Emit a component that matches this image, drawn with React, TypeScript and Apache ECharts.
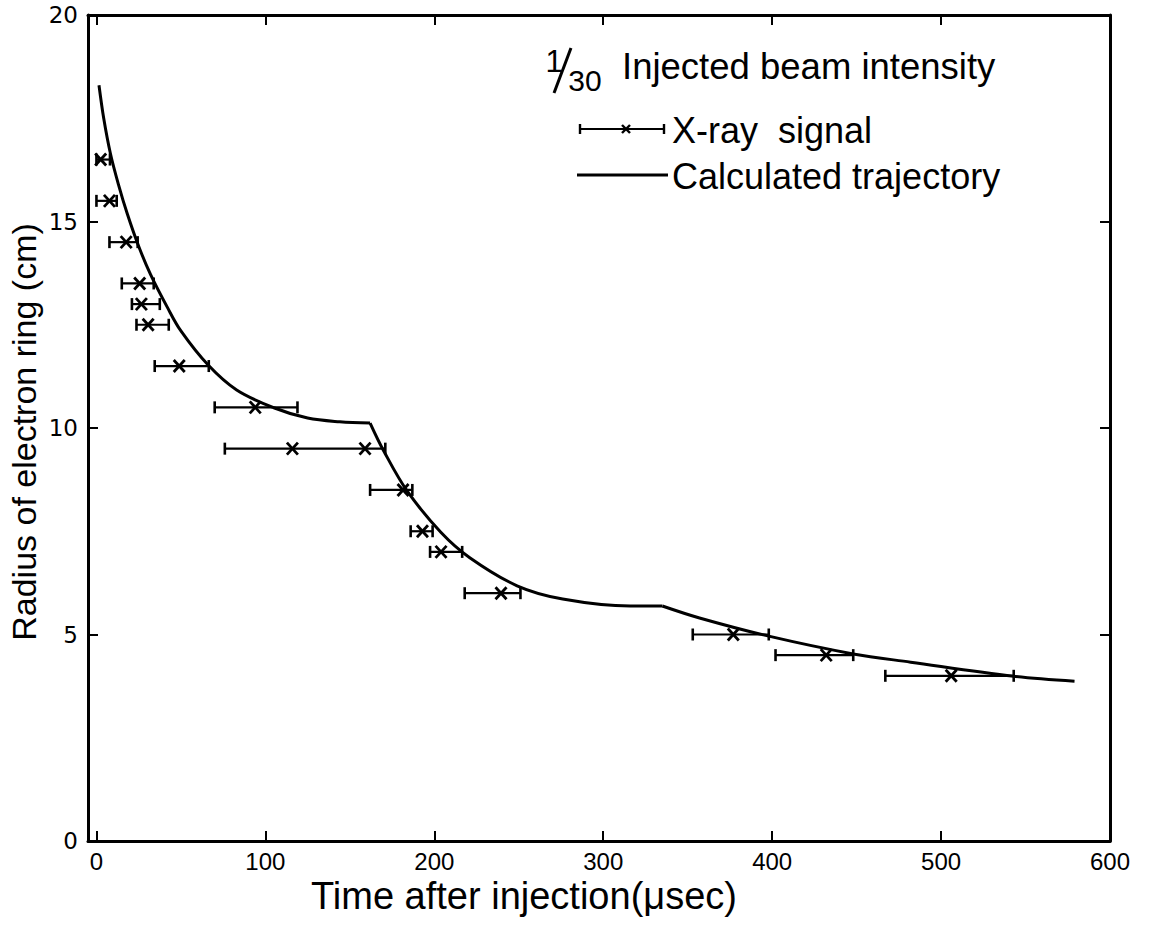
import React, { useEffect, useRef } from "react";
import * as echarts from "echarts";

// Calculated trajectory (time in µsec, radius in cm)
const trajT = [1.5, 4.3, 8.3, 13, 18.3, 25, 32, 42, 50, 66, 83, 105, 125, 144, 162, 170, 184, 204, 221, 249, 276, 316, 335, 357, 398, 448, 482, 543, 579];
const trajR = [18.3, 17.5, 16.64, 15.9, 15.18, 14.4, 13.72, 12.92, 12.35, 11.53, 10.92, 10.49, 10.24, 10.15, 10.12, 9.45, 8.47, 7.47, 6.86, 6.18, 5.86, 5.69, 5.69, 5.4, 4.96, 4.53, 4.33, 3.99, 3.87];
// indices of the two kinks in the calculated trajectory
const kinks = [14, 22];

// X-ray signal error bars: radius, time low, time high
const barR = [16.5, 15.5, 14.5, 13.5, 13, 12.5, 11.5, 10.5, 9.5, 8.5, 7.5, 7, 6, 5, 4.5, 4];
const barLo = [0, 0, 7.7, 15, 21, 23.7, 34.5, 70, 76, 162, 186, 197.5, 218, 353, 402, 467];
const barHi = [8, 12, 24.4, 33.9, 37.5, 42.8, 66.5, 119, 171, 187, 199, 216.5, 251, 398, 448, 543];

// X-ray signal markers
const markT = [2.5, 7.7, 17.6, 25.6, 26.6, 30.6, 49, 94, 116, 159, 181.5, 193, 204, 239.5, 377, 432, 506];
const markR = [16.5, 15.5, 14.5, 13.5, 13, 12.5, 11.5, 10.5, 9.5, 9.5, 8.5, 7.5, 7, 6, 5, 4.5, 4];

// Axis ticks
const xTicks = [0, 100, 200, 300, 400, 500, 600];

const SANS = "'Liberation Sans', Arial, sans-serif";

export default function App() {
  const ref = useRef<HTMLDivElement>(null);
  useEffect(() => {
    if (!ref.current) return;
    const chart = echarts.init(ref.current, null, { renderer: "svg" });
    const mkLine = () => ({ show: true, onZero: false, lineStyle: { color: "#000", width: 3 } });
    const tickStyle = { color: "#000", width: 2 };
    const pts = trajT.map((t, i) => [t, trajR[i]]);
    const bounds = [0, ...kinks, pts.length - 1];
    const segments = bounds.slice(0, -1).map((b, k) => pts.slice(b, bounds[k + 1] + 1));
    const lineSeries = segments.map((seg) => ({
      name: "Calculated trajectory",
      type: "line",
      data: seg,
      showSymbol: false,
      symbol: "none",
      lineStyle: { color: "#000", width: 3 },
      smooth: 0.35,
      z: 3,
    }));
    const option: any = {
      animation: false,
      backgroundColor: "#fff",
      grid: { left: 88, right: 42, top: 15, bottom: 86 },
      xAxis: [
        {
          type: "value", position: "bottom", min: -5, max: 600,
          axisLine: mkLine(),
          axisTick: { show: true, inside: true, length: 10, customValues: xTicks, lineStyle: tickStyle },
          axisLabel: { show: true, customValues: xTicks, fontSize: 24, color: "#000", fontFamily: SANS, margin: 8 },
          splitLine: { show: false },
        },
        {
          type: "value", position: "top", min: -5, max: 600,
          axisLine: mkLine(),
          axisTick: { show: true, inside: true, length: 10, customValues: xTicks, lineStyle: tickStyle },
          axisLabel: { show: false },
          splitLine: { show: false },
        },
      ],
      yAxis: [
        {
          type: "value", position: "left", min: 0, max: 20, interval: 5,
          axisLine: mkLine(),
          axisTick: { show: true, inside: true, length: 10, lineStyle: tickStyle },
          axisLabel: { fontSize: 23, color: "#000", fontFamily: "'DejaVu Sans', sans-serif", margin: 10 },
          splitLine: { show: false },
        },
        {
          type: "value", position: "right", min: 0, max: 20, interval: 5,
          axisLine: mkLine(),
          axisTick: { show: true, inside: true, length: 10, lineStyle: tickStyle },
          axisLabel: { show: false },
          splitLine: { show: false },
        },
      ],
      series: [
        ...lineSeries,
        {
          name: "X-ray signal",
          type: "custom",
          data: barR.map((r, i) => [barLo[i], barHi[i], r]),
          encode: { x: [0, 1], y: 2 },
          renderItem: (params: any, api: any) => {
            const lo = api.coord([api.value(0), api.value(2)]);
            const hi = api.coord([api.value(1), api.value(2)]);
            const h = 6;
            const st = { stroke: "#000", lineWidth: 2.2 };
            return {
              type: "group",
              children: [
                { type: "line", shape: { x1: lo[0], y1: lo[1], x2: hi[0], y2: hi[1] }, style: st },
                { type: "line", shape: { x1: lo[0], y1: lo[1] - h, x2: lo[0], y2: lo[1] + h }, style: { stroke: "#000", lineWidth: 2.6 } },
                { type: "line", shape: { x1: hi[0], y1: hi[1] - h, x2: hi[0], y2: hi[1] + h }, style: { stroke: "#000", lineWidth: 2.6 } },
              ],
            };
          },
          z: 4,
        },
        {
          name: "X-ray marker",
          type: "custom",
          data: markT.map((t, i) => [t, markR[i]]),
          encode: { x: 0, y: 1 },
          renderItem: (params: any, api: any) => {
            const p = api.coord([api.value(0), api.value(1)]);
            const w = 5.5, h = 6;
            const st = { stroke: "#000", lineWidth: 2.8 };
            return {
              type: "group",
              children: [
                { type: "line", shape: { x1: p[0] - w, y1: p[1] - h, x2: p[0] + w, y2: p[1] + h }, style: st },
                { type: "line", shape: { x1: p[0] - w, y1: p[1] + h, x2: p[0] + w, y2: p[1] - h }, style: st },
              ],
            };
          },
          z: 5,
        },
      ],
      graphic: [
        // axis titles
        {
          type: "text", x: 524, y: 896,
          style: { text: "Time after injection(\u03bcsec)", font: `38px ${SANS}`, fill: "#000", textAlign: "center", textVerticalAlign: "middle" },
        },
        {
          type: "text", x: 24, y: 432, rotation: Math.PI / 2,
          style: { text: "Radius of electron ring (cm)", font: `34px ${SANS}`, fill: "#000", textAlign: "center", textVerticalAlign: "middle" },
        },
        // title 1/30 Injected beam intensity
        { type: "text", x: 554, y: 61, style: { text: "1", font: `31px ${SANS}`, fill: "#000", textAlign: "center", textVerticalAlign: "middle" } },
        { type: "line", shape: { x1: 554, y1: 93, x2: 571, y2: 48 }, style: { stroke: "#000", lineWidth: 3 } },
        { type: "text", x: 585, y: 80, style: { text: "30", font: `30px ${SANS}`, fill: "#000", textAlign: "center", textVerticalAlign: "middle" } },
        { type: "text", x: 622, y: 66, style: { text: "Injected beam intensity", font: `36.5px ${SANS}`, fill: "#000", textAlign: "left", textVerticalAlign: "middle" } },
        // legend: X-ray signal
        { type: "line", shape: { x1: 580, y1: 129, x2: 664, y2: 129 }, style: { stroke: "#000", lineWidth: 2 } },
        { type: "line", shape: { x1: 580, y1: 124, x2: 580, y2: 134 }, style: { stroke: "#000", lineWidth: 2.4 } },
        { type: "line", shape: { x1: 664, y1: 124, x2: 664, y2: 134 }, style: { stroke: "#000", lineWidth: 2.4 } },
        { type: "line", shape: { x1: 622, y1: 125, x2: 630, y2: 133 }, style: { stroke: "#000", lineWidth: 2.4 } },
        { type: "line", shape: { x1: 622, y1: 133, x2: 630, y2: 125 }, style: { stroke: "#000", lineWidth: 2.4 } },
        { type: "text", x: 672, y: 130, style: { text: "X-ray  signal", font: `36px ${SANS}`, fill: "#000", textAlign: "left", textVerticalAlign: "middle" } },
        // legend: Calculated trajectory
        { type: "line", shape: { x1: 577, y1: 175, x2: 668, y2: 175 }, style: { stroke: "#000", lineWidth: 3 } },
        { type: "text", x: 672, y: 176, style: { text: "Calculated trajectory", font: `36px ${SANS}`, fill: "#000", textAlign: "left", textVerticalAlign: "middle" } },
      ],
    };
    chart.setOption(option);
    return () => chart.dispose();
  }, []);
  return <div ref={ref} style={{ position: "absolute", left: 0, top: 0, width: 1152, height: 927 }} />;
}
